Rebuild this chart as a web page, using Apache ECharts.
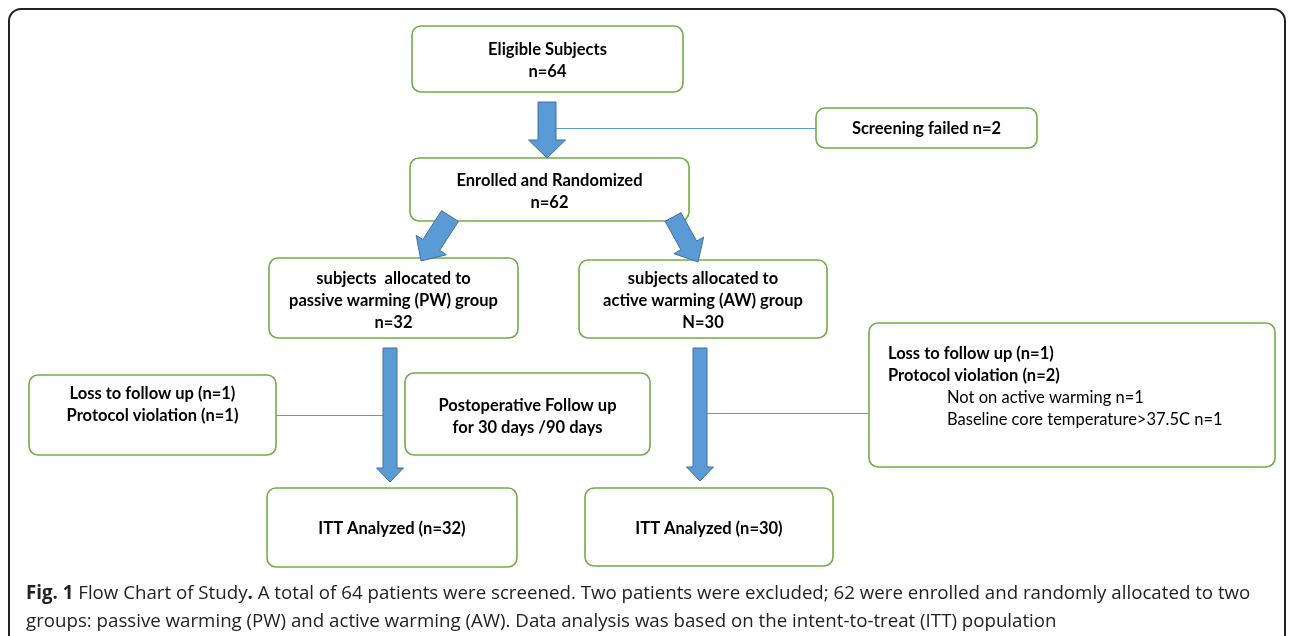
<!DOCTYPE html>
<html>
<head>
<meta charset="utf-8">
<script src="https://cdn.jsdelivr.net/npm/echarts@6/dist/echarts.min.js"></script>
<style>html,body{margin:0;padding:0;background:#fff}#c{width:1292px;height:636px}</style>
</head>
<body>
<div id="c"></div>
<script>
// ---- chart content (texts and counts) ----
const boxTexts = [
  ['Eligible Subjects', 'n=64'],
  ['Screening failed n=2'],
  ['Enrolled and Randomized', 'n=62'],
  ['subjects  allocated to', 'passive warming (PW) group', 'n=32'],
  ['subjects allocated to', 'active warming (AW) group', 'N=30'],
  ['Loss to follow up (n=1)', 'Protocol violation (n=1)'],
  ['Postoperative Follow up', 'for 30 days /90 days'],
  ['Loss to follow up (n=1)', 'Protocol violation (n=2)', 'Not on active warming n=1', 'Baseline core temperature>37.5C n=1'],
  ['ITT Analyzed (n=32)'],
  ['ITT Analyzed (n=30)']
];
const lineBold = [
  [1, 1], [1], [1, 1], [1, 1, 1], [1, 1, 1], [1, 1], [1, 1], [1, 1, 0, 0], [1], [1]
];
const captionLines = [
  '{b|Fig. 1} Flow Chart of Study{b|.} A total of 64 patients were screened. Two patients were excluded; 62 were enrolled and randomly allocated to two',
  'groups: passive warming (PW) and active warming (AW). Data analysis was based on the intent-to-treat (ITT) population'
];

// ---- layout (positions in the page's coordinate space) ----
// [x1, y1, x2, y2, textCenterY, align]  align: 0 centre, 1 left
const boxLayout = [
  [412, 26, 683, 92, 61, 0],
  [816, 108, 1037, 148, 129, 0],
  [410, 158, 689, 221, 192, 0],
  [269, 258, 518, 338, 301, 0],
  [579, 260, 827, 338, 301, 0],
  [29, 375, 276, 455, 405, 0],
  [405, 373, 650, 455, 417, 0],
  [869, 323, 1275, 467, 387, 1],
  [267, 488, 517, 567, 529, 0],
  [585, 488, 833, 566, 529, 0]
];
const leftIndent = [19, 19, 78, 78];
// arrows: [xStart, yStart, xTip, yTip, shaftW, headW, headL]
const arrowLayout = [
  [547, 102, 547, 158, 18, 37, 18],
  [450, 216, 421, 261, 20, 36, 19],
  [673, 217, 698, 262, 18, 34, 19],
  [390, 348, 390, 482, 14, 27, 14],
  [700, 348, 700, 481, 14, 27, 14]
];
// connector lines: [x1, y1, x2, y2]
const connLayout = [
  [556, 128, 816, 128],
  [276, 415, 384, 415],
  [707, 413, 869, 413]
];

const TXT_FONT = 'Lato, Carlito, "Liberation Sans", sans-serif';
const CAP_FONT = '"Open Sans", "Noto Sans", sans-serif';
const TXT_SIZE = 16.5;
const CAP_SIZE = 18.7;

const chart = echarts.init(document.getElementById('c'), null, {renderer: 'canvas'});

function boxItem(params, api) {
  const i = params.dataIndex;
  const L = boxLayout[i];
  const p1 = api.coord([L[0], L[1]]);
  const p2 = api.coord([L[2], L[3]]);
  const children = [{
    type: 'rect',
    shape: {x: p1[0], y: p1[1], width: p2[0] - p1[0], height: p2[1] - p1[1], r: 9},
    style: {fill: '#fff', stroke: '#70AD47', lineWidth: 1.6}
  }];
  const lines = boxTexts[i];
  const lh = 22;
  const cy = api.coord([0, L[4]])[1];
  lines.forEach((t, k) => {
    const y = cy + (k - (lines.length - 1) / 2) * lh;
    const left = L[5] === 1;
    children.push({
      type: 'text',
      style: {
        text: t,
        x: left ? p1[0] + leftIndent[k] : (p1[0] + p2[0]) / 2,
        y: y,
        align: left ? 'left' : 'center',
        verticalAlign: 'middle',
        font: (lineBold[i][k] ? 'bold ' : '') + TXT_SIZE + 'px ' + TXT_FONT,
        fill: '#000'
      }
    });
  });
  return {type: 'group', children};
}

function arrowItem(params, api) {
  const A = arrowLayout[params.dataIndex];
  const s = api.coord([A[0], A[1]]);
  const e = api.coord([A[2], A[3]]);
  const dx = e[0] - s[0], dy = e[1] - s[1];
  const len = Math.sqrt(dx * dx + dy * dy);
  const ux = dx / len, uy = dy / len;
  const nx = -uy, ny = ux;
  const sw = A[4] / 2, hw = A[5] / 2, hl = A[6];
  const bx = e[0] - ux * hl, by = e[1] - uy * hl;
  const pts = [
    [s[0] + nx * sw, s[1] + ny * sw],
    [bx + nx * sw, by + ny * sw],
    [bx + nx * hw, by + ny * hw],
    [e[0], e[1]],
    [bx - nx * hw, by - ny * hw],
    [bx - nx * sw, by - ny * sw],
    [s[0] - nx * sw, s[1] - ny * sw]
  ];
  return {
    type: 'polygon',
    shape: {points: pts},
    style: {fill: '#5B9BD5', stroke: '#41719C', lineWidth: 1}
  };
}

function connItem(params, api) {
  const C = connLayout[params.dataIndex];
  const a = api.coord([C[0], C[1]]);
  const b = api.coord([C[2], C[3]]);
  return {
    type: 'line',
    shape: {x1: a[0], y1: a[1] + 0.5, x2: b[0], y2: b[1] + 0.5},
    style: {stroke: '#5B9BD5', lineWidth: 1}
  };
}

const option = {
  animation: false,
  backgroundColor: '#fff',
  grid: {left: 0, right: 0, top: 0, bottom: 0},
  xAxis: {type: 'value', min: 0, max: 1292, show: false},
  yAxis: {type: 'value', min: 0, max: 636, inverse: true, show: false},
  graphic: [
    {
      type: 'rect', z: -1,
      shape: {x: 9, y: 9, width: 1276, height: 700, r: 12},
      style: {fill: 'none', stroke: '#222', lineWidth: 2}
    },
    {
      type: 'text', left: 26, top: 580,
      style: {
        text: captionLines.join('\n'),
        font: CAP_SIZE + 'px ' + CAP_FONT,
        lineHeight: 28,
        fill: '#222',
        rich: {
          b: {font: 'bold ' + CAP_SIZE + 'px ' + CAP_FONT, fill: '#222', lineHeight: 28}
        }
      }
    }
  ],
  series: [
    {type: 'custom', renderItem: connItem, data: connLayout.map((c) => [c[0], c[1]]), silent: true, z: 1},
    {type: 'custom', renderItem: arrowItem, data: arrowLayout.map((a) => [a[0], a[1]]), silent: true, z: 3},
    {type: 'custom', renderItem: boxItem, data: boxLayout.map((b) => [b[0], b[1]]), silent: true, z: 2}
  ]
};
chart.setOption(option);
</script>
</body>
</html>
